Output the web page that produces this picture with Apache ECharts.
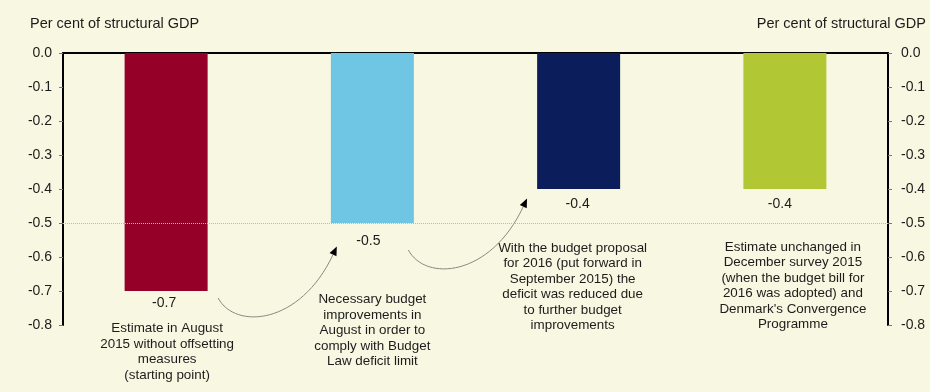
<!DOCTYPE html>
<html><head><meta charset="utf-8">
<script src="https://cdn.jsdelivr.net/npm/echarts@6/dist/echarts.min.js"></script>
<style>html,body{margin:0;padding:0;background:#F8F7E1;}#c{width:930px;height:392px;}</style>
</head><body><div id="c"></div>
<script>
const categories = ['August 2015 estimate', 'Necessary improvements', 'Budget proposal 2016', 'December survey 2015'];
const values = [-0.7, -0.5, -0.4, -0.4];
const yTicks = [0.0, -0.1, -0.2, -0.3, -0.4, -0.5, -0.6, -0.7, -0.8];
const referenceLevel = -0.5;
const axisTitle = 'Per cent of structural GDP';
const descriptions = [
  ['Estimate in August', '2015 without offsetting', 'measures', '(starting point)'],
  ['Necessary budget', 'improvements in', 'August in order to', 'comply with Budget', 'Law deficit limit'],
  ['With the budget proposal', 'for 2016 (put forward in', 'September 2015) the', 'deficit was reduced due', 'to further budget', 'improvements'],
  ['Estimate unchanged in', 'December survey 2015', '(when the budget bill for', '2016 was adopted) and', "Denmark's Convergence", 'Programme']
];

const barColors = ['#950029', '#6FC6E4', '#0B1E5B', '#B1C834'];
const labelDistance = [5, 11, 8, 8];
const labelShiftX = [-2, -4, -1, -5];
const FONT = '"Liberation Sans", Arial, sans-serif';
const TXT = '#1c1c1c';
const chart = echarts.init(document.getElementById('c'));

function yAxisCfg(pos, margin) {
  return {
    type: 'value', position: pos, min: yTicks[yTicks.length - 1], max: yTicks[0], interval: 0.1,
    axisLine: { show: true, onZero: false, lineStyle: { color: '#000', width: 2 } },
    axisTick: { show: true, length: 4, lineStyle: { color: '#777', width: 1 } },
    axisLabel: { color: TXT, fontSize: 14, fontFamily: FONT, margin: margin, formatter: v => v.toFixed(1) },
    splitLine: { show: false }
  };
}

chart.setOption({
  backgroundColor: '#F8F7E1',
  animation: false,
  title: [
    { text: axisTitle, left: 30, top: 16, padding: 0, textStyle: { fontSize: 14.5, fontWeight: 'normal', color: TXT, fontFamily: FONT } },
    { text: axisTitle, right: 4, top: 16, padding: 0, textStyle: { fontSize: 14.5, fontWeight: 'normal', color: TXT, fontFamily: FONT } }
  ],
  grid: { left: 63, right: 42, top: 53, bottom: 67 },
  xAxis: {
    type: 'category', data: categories, position: 'top',
    axisLine: { show: true, lineStyle: { color: '#000', width: 2 } },
    axisTick: { show: false }, axisLabel: { show: false }
  },
  yAxis: [yAxisCfg('left', 11), yAxisCfg('right', 13)],
  series: [{
    type: 'bar',
    barWidth: 83,
    data: values.map((v, i) => ({
      value: v,
      itemStyle: { color: barColors[i] },
      label: { distance: labelDistance[i], offset: [labelShiftX[i], 0] }
    })),
    label: {
      show: true, position: 'bottom',
      color: TXT, fontSize: 14, fontFamily: FONT,
      formatter: p => p.value.toFixed(1)
    },
    markLine: {
      silent: true, symbol: 'none', label: { show: false },
      lineStyle: { color: '#BDBCAA', type: 'dotted', width: 1 },
      data: [{ yAxis: referenceLevel }]
    }
  }]
});

function px(i, v) { return chart.convertToPixel({ xAxisIndex: 0, yAxisIndex: 0 }, [i, v]); }

const graphics = [];
const descLayout = [
  { dx: 1, top: 321 }, { dx: 0, top: 292 }, { dx: -6, top: 240.5 }, { dx: 8, top: 239.5 }
];
descriptions.forEach((lines, i) => {
  const c = px(i, 0);
  graphics.push({
    type: 'text', x: c[0] + descLayout[i].dx, y: descLayout[i].top, silent: true,
    style: { text: lines.join('\n'), fill: TXT, font: '13.4px ' + FONT, align: 'center', verticalAlign: 'top', lineHeight: 15.5 }
  });
});
const arrowStarts = [
  (() => { const p = px(0, values[0]); return [p[0] + 52, p[1] + 7]; })(),
  (() => { const p = px(1, values[1]); return [p[0] + 36, p[1] + 27]; })()
];
arrowStarts.forEach(s => {
  const tip = [s[0] + 118.7, s[1] - 51.5];
  const c1 = [s[0] + 17, s[1] + 32];
  const c2 = [s[0] + 82, s[1] + 27];
  let dx = tip[0] - c2[0], dy = tip[1] - c2[1];
  const len = Math.hypot(dx, dy); dx /= len; dy /= len;
  const L = 9, W = 3.8;
  const base = [tip[0] - dx * L, tip[1] - dy * L];
  graphics.push({
    type: 'bezierCurve', silent: true,
    shape: { x1: s[0], y1: s[1], cpx1: c1[0], cpy1: c1[1], cpx2: c2[0], cpy2: c2[1], x2: base[0], y2: base[1] },
    style: { stroke: '#8A8A80', lineWidth: 1, fill: null }
  });
  graphics.push({
    type: 'polygon', silent: true,
    shape: { points: [tip, [base[0] - dy * W, base[1] + dx * W], [base[0] + dy * W, base[1] - dx * W]] },
    style: { fill: '#000' }
  });
});
chart.setOption({ graphic: graphics });
</script></body></html>
